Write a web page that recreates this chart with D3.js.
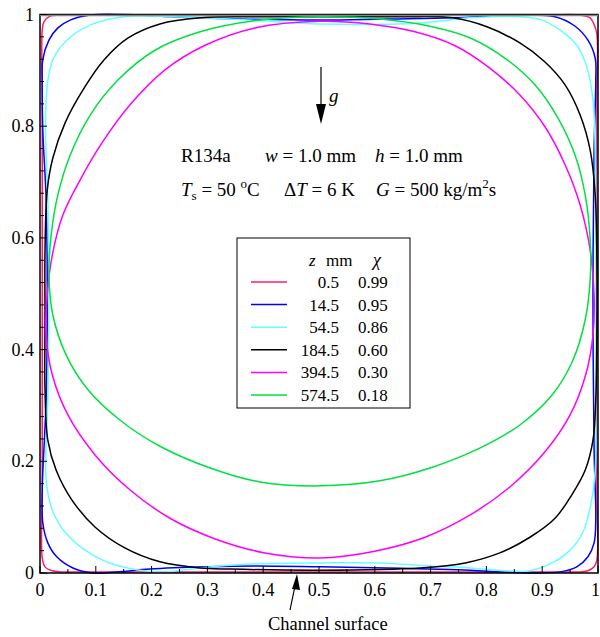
<!DOCTYPE html>
<html>
<head>
<meta charset="utf-8">
<script src="https://cdn.jsdelivr.net/npm/d3@7"></script>
<style>
  body { margin: 0; background: #fff; }
  svg text { font-family: "Liberation Serif", "Times New Roman", Times, Tinos, "DejaVu Serif", serif; fill: #000; }
</style>
</head>
<body>
<div id="chart"></div>
<script>
// legend entries: axial position z (mm) and quality chi
const zLabels = ["0.5", "14.5", "54.5", "184.5", "394.5", "574.5"];
const chiLabels = ["0.99", "0.95", "0.86", "0.60", "0.30", "0.18"];
const colors = ["#ff1a6e", "#0000ff", "#66ffff", "#000000", "#ff00ff", "#00e040"];

const xMajor = [0, 0.1, 0.2, 0.3, 0.4, 0.5, 0.6, 0.7, 0.8, 0.9, 1];
const xLabels = ["0", "0.1", "0.2", "0.3", "0.4", "0.5", "0.6", "0.7", "0.8", "0.9", "1"];
const yMajor = [0, 0.2, 0.4, 0.6, 0.8, 1];
const yLabels = ["0", "0.2", "0.4", "0.6", "0.8", "1"];

// interface contours (x/w, y/h)
const iface05 = [[0.5,0.999],[0.1,0.999],[0.036,0.999],[0.018,0.997],[0.007,0.987],[0.004,0.972],[0.004,0.85],
  [0.004,0.5],[0.004,0.15],[0.004,0.027],[0.009,0.011],[0.022,0.004],[0.036,0.002],[0.1,0.002],[0.5,0.002],[0.9,0.002],
  [0.968,0.002],[0.982,0.004],[0.993,0.011],[0.998,0.023],[0.998,0.15],[0.998,0.5],[0.998,0.85],[0.998,0.965],
  [0.993,0.982],[0.986,0.994],[0.968,0.999],[0.9,0.999]];
const iface145 = [[0.502,0.990],[0.622,0.992],[0.740,0.994],[0.860,0.999],[0.923,0.996],[0.959,0.979],[0.982,0.954],
  [0.995,0.922],[0.996,0.883],[0.993,0.757],[0.991,0.489],[0.993,0.220],[0.996,0.095],[0.993,0.054],[0.982,0.029],
  [0.962,0.011],[0.932,0.002],[0.878,0.0],[0.824,0.002],[0.771,0.005],[0.622,0.009],[0.502,0.011],[0.389,0.0125],
  [0.299,0.011],[0.197,0.007],[0.138,0.002],[0.095,0.0],[0.059,0.009],[0.030,0.029],[0.014,0.054],[0.005,0.090],
  [0.004,0.149],[0.011,0.310],[0.013,0.489],[0.011,0.668],[0.005,0.793],[0.004,0.877],[0.005,0.919],[0.016,0.954],
  [0.032,0.976],[0.054,0.990],[0.090,0.999],[0.149,1.0],[0.238,0.996],[0.358,0.992]];
const iface545 = [[0.502,0.983],[0.681,0.985],[0.771,0.994],[0.860,0.996],[0.900,0.990],[0.932,0.972],[0.962,0.945],
  [0.980,0.906],[0.991,0.847],[0.995,0.757],[0.996,0.578],[0.996,0.310],[0.995,0.184],[0.987,0.122],[0.973,0.073],
  [0.950,0.041],[0.918,0.018],[0.878,0.004],[0.833,0.004],[0.771,0.009],[0.699,0.0125],[0.609,0.018],[0.502,0.018],
  [0.376,0.016],[0.287,0.009],[0.224,0.002],[0.179,0.005],[0.125,0.018],[0.081,0.041],[0.045,0.073],[0.022,0.113],
  [0.011,0.167],[0.014,0.310],[0.016,0.489],[0.014,0.668],[0.010,0.793],[0.013,0.874],[0.023,0.919],[0.048,0.954],
  [0.090,0.981],[0.149,0.996],[0.242,0.996],[0.376,0.990]];
const iface1845 = [[0.502,0.996],[0.645,0.996],[0.740,0.994],[0.801,0.978],[0.860,0.949],[0.905,0.915],[0.941,0.874],
  [0.968,0.820],[0.986,0.757],[0.995,0.677],[0.998,0.560],[0.998,0.435],[0.996,0.310],[0.991,0.238],[0.977,0.184],
  [0.953,0.140],[0.923,0.098],[0.878,0.064],[0.824,0.036],[0.762,0.018],[0.681,0.009],[0.502,0.005],[0.341,0.007],
  [0.287,0.009],[0.215,0.020],[0.152,0.045],[0.099,0.082],[0.057,0.131],[0.029,0.184],[0.014,0.238],[0.009,0.328],
  [0.009,0.453],[0.009,0.578],[0.013,0.686],[0.023,0.743],[0.045,0.806],[0.077,0.865],[0.115,0.919],[0.158,0.958],
  [0.215,0.983],[0.287,0.994],[0.376,0.996]];
const iface3945 = [[0.502,0.988],[0.591,0.983],[0.672,0.969],[0.744,0.944],[0.806,0.904],[0.860,0.856],[0.905,0.799],
  [0.941,0.731],[0.968,0.659],[0.986,0.578],[0.993,0.498],[0.991,0.426],[0.978,0.355],[0.950,0.283],[0.905,0.217],
  [0.842,0.154],[0.771,0.104],[0.690,0.064],[0.600,0.039],[0.502,0.027],[0.403,0.036],[0.314,0.061],[0.233,0.098],
  [0.161,0.149],[0.099,0.211],[0.050,0.283],[0.022,0.355],[0.011,0.426],[0.013,0.498],[0.022,0.569],[0.041,0.641],
  [0.072,0.704],[0.111,0.770],[0.161,0.838],[0.224,0.901],[0.296,0.945],[0.385,0.976]];
const iface5745 = [[0.502,0.996],[0.609,0.992],[0.699,0.979],[0.771,0.958],[0.833,0.922],[0.887,0.874],[0.928,0.815],
  [0.959,0.748],[0.977,0.677],[0.986,0.596],[0.986,0.525],[0.977,0.453],[0.955,0.381],[0.918,0.319],[0.860,0.265],
  [0.789,0.224],[0.699,0.188],[0.609,0.165],[0.502,0.156],[0.394,0.163],[0.305,0.188],[0.215,0.227],[0.143,0.274],
  [0.086,0.328],[0.047,0.390],[0.023,0.462],[0.016,0.534],[0.020,0.605],[0.032,0.677],[0.054,0.748],[0.090,0.820],
  [0.140,0.883],[0.206,0.936],[0.287,0.969],[0.394,0.990]];
const contours = [iface05, iface145, iface545, iface1845, iface3945, iface5745];

const width = 600, height = 637;
const svg = d3.select("#chart").append("svg")
  .attr("width", width)
  .attr("height", height)
  .attr("font-family", "Liberation Serif, Times New Roman, serif");

const x = d3.scaleLinear().domain([0, 1]).range([40, 598]);
const y = d3.scaleLinear().domain([0, 1]).range([573, 14.5]);

const line = d3.line()
  .x(d => x(d[0]))
  .y(d => y(d[1]))
  .curve(d3.curveCatmullRomClosed.alpha(0.5));

// contours
svg.append("g")
  .selectAll("path")
  .data(contours)
  .join("path")
  .attr("d", line)
  .attr("fill", "none")
  .attr("stroke", (d, i) => colors[i])
  .attr("stroke-width", 1.5);

// frame
svg.append("rect")
  .attr("x", x(0)).attr("y", y(1))
  .attr("width", x(1) - x(0)).attr("height", y(0) - y(1))
  .attr("fill", "none").attr("stroke", "#000").attr("stroke-width", 1.5);
svg.append("line")
  .attr("x1", x(0)).attr("x2", x(1)).attr("y1", y(1) + 1).attr("y2", y(1) + 1)
  .attr("stroke", "#888").attr("stroke-width", 1.5);

// ticks, inward
const ax = svg.append("g").attr("stroke", "#000").attr("stroke-width", 1);
d3.range(0, 21).forEach(i => {
  const v = i * 0.05, len = i % 2 === 0 ? 7 : 4;
  ax.append("line").attr("x1", x(v)).attr("x2", x(v)).attr("y1", y(0)).attr("y2", y(0) - len);
});
d3.range(0, 26).forEach(i => {
  const v = i * 0.04, len = i % 5 === 0 ? 7 : 4;
  ax.append("line").attr("x1", x(0)).attr("x2", x(0) + len).attr("y1", y(v)).attr("y2", y(v));
});

// last label sits at the window edge, keep it inside
svg.append("g").selectAll("text")
  .data(xMajor)
  .join("text")
  .attr("x", d => d === 1 ? 600 : x(d)).attr("y", 596)
  .attr("text-anchor", d => d === 1 ? "end" : "middle")
  .style("font-size", "18px")
  .text((d, i) => xLabels[i]);

svg.append("g").selectAll("text")
  .data(yMajor)
  .join("text")
  .attr("x", 34).attr("y", d => y(d) + 6)
  .attr("text-anchor", "end")
  .style("font-size", "18px")
  .text((d, i) => yLabels[i]);

// gravity arrow
svg.append("line").attr("x1", 321).attr("x2", 321).attr("y1", 67).attr("y2", 110)
  .attr("stroke", "#000").attr("stroke-width", 1.2);
svg.append("path").attr("d", "M316,104 L326,104 L321,124 Z").attr("fill", "#000");
svg.append("text").attr("x", 329).attr("y", 102)
  .style("font-size", "19px").style("font-style", "italic").text("g");

// conditions
const t1 = svg.append("text").attr("x", 181).attr("y", 162).style("font-size", "19px");
t1.append("tspan").text("R134a");
t1.append("tspan").attr("x", 265).style("font-style", "italic").text("w");
t1.append("tspan").text(" = 1.0 mm");
t1.append("tspan").attr("x", 375).style("font-style", "italic").text("h");
t1.append("tspan").text(" = 1.0 mm");

const t2 = svg.append("text").attr("x", 181).attr("y", 196).style("font-size", "19px");
t2.append("tspan").style("font-style", "italic").text("T");
t2.append("tspan").attr("dy", 4).style("font-size", "13px").text("s");
t2.append("tspan").attr("dy", -4).text(" = 50 ");
t2.append("tspan").attr("dy", -8).style("font-size", "13px").text("o");
t2.append("tspan").attr("dy", 8).text("C");
t2.append("tspan").attr("x", 284).text("\u0394");
t2.append("tspan").style("font-style", "italic").text("T");
t2.append("tspan").text(" = 6 K");
t2.append("tspan").attr("x", 376).style("font-style", "italic").text("G");
t2.append("tspan").text(" = 500 kg/m");
t2.append("tspan").attr("dy", -8).style("font-size", "13px").text("2");
t2.append("tspan").attr("dy", 8).text("s");

// legend
const lg = svg.append("g");
lg.append("rect").attr("x", 237).attr("y", 238).attr("width", 173).attr("height", 170)
  .attr("fill", "#fff").attr("stroke", "#000").attr("stroke-width", 1);
const hd = lg.append("text").attr("y", 266).style("font-size", "17px");
hd.append("tspan").attr("x", 309).style("font-style", "italic").text("z");
hd.append("tspan").attr("x", 326).text("mm");
lg.append("text").attr("x", 373).attr("y", 266).style("font-size", "18px").style("font-style", "italic").text("\u03c7");

const rows = lg.selectAll("g.row")
  .data(zLabels)
  .join("g")
  .attr("class", "row")
  .attr("transform", (d, i) => `translate(0,${288 + i * 22.6})`);
rows.append("line")
  .attr("x1", 251).attr("x2", 287).attr("y1", -6).attr("y2", -6)
  .attr("stroke", (d, i) => colors[i]).attr("stroke-width", 1.5);
rows.append("text")
  .attr("x", 339).attr("text-anchor", "end")
  .style("font-size", "17px")
  .text(d => d);
rows.append("text")
  .attr("x", 358)
  .style("font-size", "17px")
  .text((d, i) => chiLabels[i]);

// channel surface note
svg.append("line").attr("x1", 290).attr("y1", 610).attr("x2", 295).attr("y2", 586)
  .attr("stroke", "#000").attr("stroke-width", 1.2);
svg.append("path").attr("d", "M292,589 L300,590 L297,574 Z").attr("fill", "#000");
svg.append("text").attr("x", 268).attr("y", 630).style("font-size", "18.5px").text("Channel surface");
</script>
</body>
</html>
